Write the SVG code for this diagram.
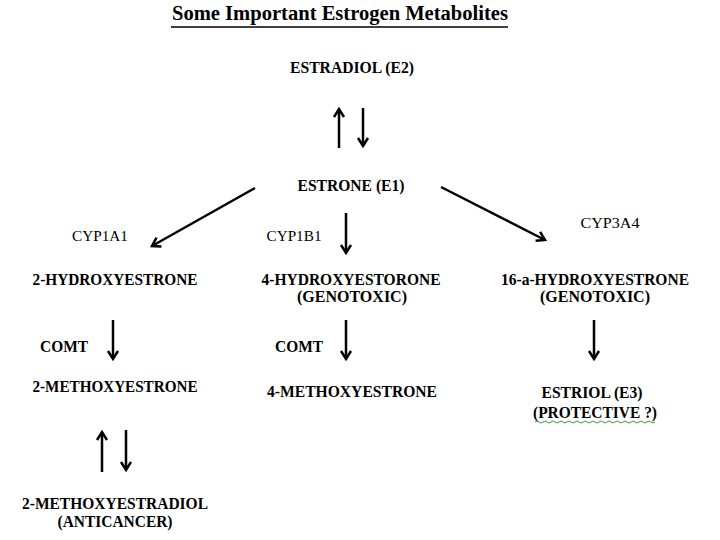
<svg xmlns="http://www.w3.org/2000/svg" width="720" height="540" viewBox="0 0 720 540">
<defs>
<style>
text{font-family:'Liberation Serif','DejaVu Serif','Times New Roman',serif}
.t{font-weight:bold;font-size:16px;fill:#000;text-anchor:middle}
.r{font-weight:normal;font-size:15px;fill:#000;text-anchor:middle}
.a{stroke:#000;stroke-width:2.5;fill:none;marker-end:url(#h)}
</style>
<marker id="h" markerUnits="userSpaceOnUse" markerWidth="20" markerHeight="20" refX="10" refY="10" orient="auto" overflow="visible">
<path d="M2,5 L10,10 L2,15" fill="none" stroke="#000" stroke-width="2.5"/>
</marker>
</defs>
<rect width="720" height="540" fill="#fff"/>
<g id="title">
<text x="340" y="20" class="t" style="font-size:20px" textLength="336" lengthAdjust="spacingAndGlyphs">Some Important Estrogen Metabolites</text>
<line x1="171" y1="27" x2="508" y2="27" stroke="#000" stroke-width="1.5"/>
</g>
<g id="estradiol"><text x="352" y="73" class="t" textLength="124" lengthAdjust="spacingAndGlyphs">ESTRADIOL (E2)</text></g>
<g id="estrone"><text x="351" y="191" class="t" textLength="107" lengthAdjust="spacingAndGlyphs">ESTRONE (E1)</text></g>
<g id="cyp1a1"><text x="100" y="241" class="r" textLength="56" lengthAdjust="spacingAndGlyphs">CYP1A1</text></g>
<g id="cyp1b1"><text x="294" y="241" class="r" textLength="55" lengthAdjust="spacingAndGlyphs">CYP1B1</text></g>
<g id="cyp3a4"><text x="610" y="228" class="r" textLength="59" lengthAdjust="spacingAndGlyphs">CYP3A4</text></g>
<g id="hydroxy2"><text x="115" y="285" class="t" textLength="165" lengthAdjust="spacingAndGlyphs">2-HYDROXYESTRONE</text></g>
<g id="hydroxy4">
<text x="351" y="285" class="t" textLength="179" lengthAdjust="spacingAndGlyphs">4-HYDROXYESTORONE</text>
<text x="352" y="302" class="t" textLength="110" lengthAdjust="spacingAndGlyphs">(GENOTOXIC)</text>
</g>
<g id="hydroxy16">
<text x="595" y="285" class="t" textLength="188" lengthAdjust="spacingAndGlyphs">16-a-HYDROXYESTRONE</text>
<text x="595" y="302" class="t" textLength="110" lengthAdjust="spacingAndGlyphs">(GENOTOXIC)</text>
</g>
<g id="comt1"><text x="64" y="352" class="t" textLength="48" lengthAdjust="spacingAndGlyphs">COMT</text></g>
<g id="comt2"><text x="299" y="352" class="t" textLength="48" lengthAdjust="spacingAndGlyphs">COMT</text></g>
<g id="methoxy2"><text x="115" y="392" class="t" textLength="165" lengthAdjust="spacingAndGlyphs">2-METHOXYESTRONE</text></g>
<g id="methoxy4"><text x="352" y="397" class="t" textLength="170" lengthAdjust="spacingAndGlyphs">4-METHOXYESTRONE</text></g>
<g id="estriol">
<text x="592" y="398" class="t" textLength="101" lengthAdjust="spacingAndGlyphs">ESTRIOL (E3)</text>
<text x="595" y="418" class="t" textLength="124" lengthAdjust="spacingAndGlyphs">(PROTECTIVE ?)</text>
<path d="M535,422 q2,-2 4,0 t4,0 t4,0 t4,0 t4,0 t4,0 t4,0 t4,0 t4,0 t4,0 t4,0 t4,0 t4,0 t4,0 t4,0 t4,0 t4,0 t4,0 t4,0 t4,0 t4,0 t4,0 t4,0 t4,0 t4,0 t4,0 t4,0 t4,0 t4,0 t4,0" fill="none" stroke="#3a9a3a" stroke-width="1"/>
</g>
<g id="methoxyestradiol">
<text x="115" y="509" class="t" textLength="186" lengthAdjust="spacingAndGlyphs">2-METHOXYESTRADIOL</text>
<text x="115" y="527" class="t" textLength="115" lengthAdjust="spacingAndGlyphs">(ANTICANCER)</text>
</g>
<g id="connectors">
<line class="a" x1="339" y1="148" x2="339" y2="109"/>
<line class="a" x1="363" y1="108" x2="363" y2="146"/>
<line class="a" x1="255" y1="188" x2="152" y2="246"/>
<line class="a" x1="441" y1="187" x2="545" y2="240"/>
<line class="a" x1="346" y1="213" x2="346" y2="253"/>
<line class="a" x1="113" y1="320" x2="113" y2="359"/>
<line class="a" x1="346" y1="320" x2="346" y2="359"/>
<line class="a" x1="594" y1="320" x2="594" y2="359"/>
<line class="a" x1="102" y1="472" x2="102" y2="432"/>
<line class="a" x1="126" y1="430" x2="126" y2="470"/>
</g>
</svg>
